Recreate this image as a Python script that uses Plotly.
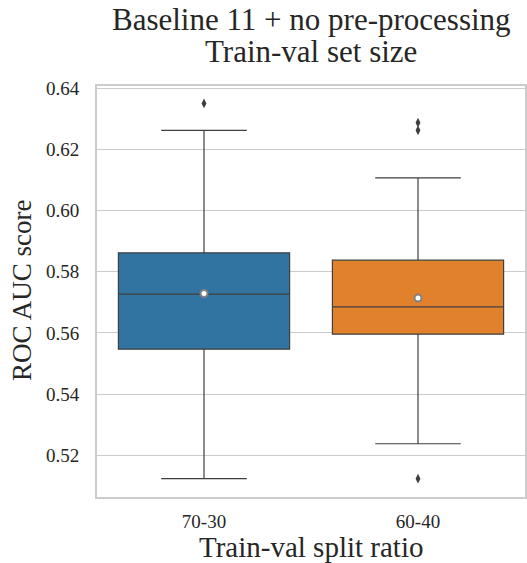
import plotly.graph_objects as go

categories = ["70-30", "60-40"]
colors = ["#3274a1", "#e1812c"]
q1 = [0.5547, 0.5596]
median = [0.5727, 0.5685]
q3 = [0.5862, 0.5838]
lower_whisker = [0.5124, 0.5238]
upper_whisker = [0.6262, 0.6107]
means = [0.5729, 0.5714]
outlier_cats = ["70-30", "60-40", "60-40", "60-40"]
outlier_vals = [0.6350, 0.6287, 0.6262, 0.5124]
yticks = [0.52, 0.54, 0.56, 0.58, 0.60, 0.62, 0.64]
ytick_labels = ["0.52", "0.54", "0.56", "0.58", "0.60", "0.62", "0.64"]
title_lines = ["Baseline 11 + no pre-processing", "Train-val set size"]
x_title = "Train-val split ratio"
y_title = "ROC AUC score"

FONT = "Liberation Serif"
TXT = "#262626"
W, H = 527, 563
ML, MR, MT, MB = 97, 2, 86, 66
PH = H - MT - MB


def py(ypx):
    """paper y fraction for a pixel row"""
    return 1 - (ypx - MT) / PH


def px(xpx):
    return (xpx - ML) / (W - ML - MR)


fig = go.Figure()
for i, c in enumerate(categories):
    fig.add_trace(go.Box(
        x=[c], q1=[q1[i]], median=[median[i]], q3=[q3[i]],
        lowerfence=[lower_whisker[i]], upperfence=[upper_whisker[i]],
        fillcolor=colors[i], line=dict(color="#3f3f3f", width=1.2),
        width=0.8, whiskerwidth=0.5, boxpoints=False, showlegend=False,
        hoverinfo="skip",
    ))

fig.add_trace(go.Scatter(
    x=categories, y=means, mode="markers", showlegend=False,
    marker=dict(symbol="circle", size=7, color="white",
                line=dict(color="#808080", width=2)),
))
fig.add_trace(go.Scatter(
    x=outlier_cats, y=outlier_vals, mode="markers", showlegend=False,
    marker=dict(symbol="diamond-tall", size=7, color="#3f3f3f",
                line=dict(width=0)),
))

annotations = [
    dict(text=title_lines[0], x=0.5, y=py(20), xref="paper", yref="paper",
         xanchor="center", yanchor="middle", showarrow=False,
         font=dict(size=31, family=FONT, color=TXT)),
    dict(text=title_lines[1], x=0.5, y=py(51), xref="paper", yref="paper",
         xanchor="center", yanchor="middle", showarrow=False,
         font=dict(size=31, family=FONT, color=TXT)),
    dict(text=x_title, x=0.5, y=py(547), xref="paper", yref="paper",
         xanchor="center", yanchor="middle", showarrow=False,
         font=dict(size=29, family=FONT, color=TXT)),
    dict(text=y_title, x=px(22), y=py(290), xref="paper", yref="paper",
         xanchor="center", yanchor="middle", showarrow=False, textangle=-90,
         font=dict(size=27, family=FONT, color=TXT)),
]

fig.update_layout(
    width=W, height=H,
    margin=dict(l=ML, r=MR, t=MT, b=MB),
    paper_bgcolor="white", plot_bgcolor="white",
    boxmode="overlay",
    font=dict(family=FONT, color=TXT, size=18),
    annotations=annotations,
    xaxis=dict(type="category", categoryorder="array", categoryarray=categories,
               range=[-0.5, 1.5], showline=True, mirror=True,
               linecolor="#cccccc", linewidth=2, showgrid=False,
               ticks="", ticklabelstandoff=6, automargin=False,
               tickfont=dict(size=19)),
    yaxis=dict(range=[0.5064, 0.6407], showline=True, mirror=True,
               linecolor="#cccccc", linewidth=2, showgrid=True,
               gridcolor="#cccccc", gridwidth=1.3, zeroline=False,
               tickvals=yticks, ticktext=ytick_labels,
               ticks="", ticklabelstandoff=12, automargin=False,
               tickfont=dict(size=19)),
)
fig.write_html(
    "out.html",
    config={"displayModeBar": False},
    post_script="document.body.style.margin='0';document.body.style.overflow='hidden';",
)
